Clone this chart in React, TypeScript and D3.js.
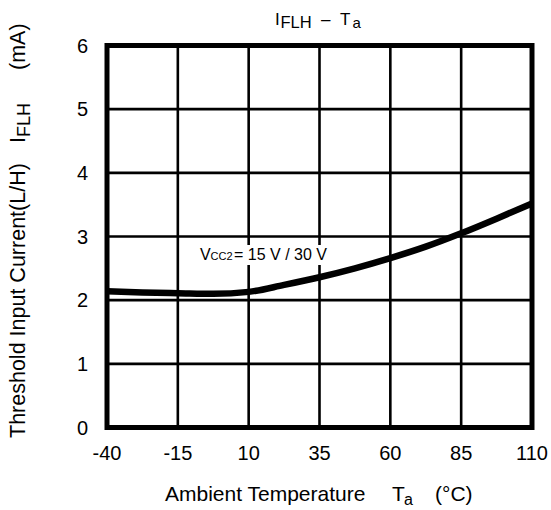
import React from "react";
import * as d3 from "d3";

const temps = [-40, -27.5, -15, -2.5, 10, 22.5, 35, 47.5, 60, 72.5, 85, 97.5, 110];
const currents = [2.14, 2.12, 2.11, 2.1, 2.13, 2.24, 2.36, 2.5, 2.66, 2.84, 3.05, 3.28, 3.52];
const xTicks = [-40, -15, 10, 35, 60, 85, 110];
const yTicks = [0, 1, 2, 3, 4, 5, 6];

const W = 551;
const H = 510;
const FONT = "'Liberation Sans', Arial, Helvetica, sans-serif";

export default function App() {
  const x = d3.scaleLinear().domain([-40, 110]).range([107, 532]);
  const y = d3.scaleLinear().domain([0, 6]).range([427.5, 45.5]);
  const pts: [number, number][] = temps.map((t, i) => [t, currents[i]]);
  const line = d3
    .line<[number, number]>()
    .x((d) => x(d[0]))
    .y((d) => y(d[1]))
    .curve(d3.curveMonotoneX);

  return (
    <svg
      width={W}
      height={H}
      viewBox={`0 0 ${W} ${H}`}
      style={{ position: "absolute", left: 0, top: 0, display: "block", background: "#fff" }}
      fontFamily={FONT}
    >
      <rect x={0} y={0} width={W} height={H} fill="#fff" />
      {/* grid */}
      {xTicks.slice(1, -1).map((t) => (
        <line key={"gx" + t} x1={x(t)} x2={x(t)} y1={y(6)} y2={y(0)} stroke="#000" strokeWidth={2.6} />
      ))}
      {yTicks.slice(1, -1).map((t) => (
        <line key={"gy" + t} x1={x(-40)} x2={x(110)} y1={y(t)} y2={y(t)} stroke="#000" strokeWidth={2.6} />
      ))}
      {/* annotation background */}
      <rect x={198} y={245} width={131} height={20} fill="#fff" />
      <text y={260} fontSize={16} fill="#000">
        <tspan x={200}>V</tspan>
        <tspan x={210.5} fontSize={11}>CC2</tspan>
        <tspan x={234}>= 15 V / 30 V</tspan>
      </text>
      {/* curve */}
      <path d={line(pts) || ""} fill="none" stroke="#000" strokeWidth={6.5} strokeLinejoin="round" />
      {/* frame */}
      <rect
        x={x(-40)}
        y={y(6)}
        width={x(110) - x(-40)}
        height={y(0) - y(6)}
        fill="none"
        stroke="#000"
        strokeWidth={5}
      />
      {/* y tick labels */}
      {yTicks.map((t) => (
        <text key={"yl" + t} x={88} y={y(t)} dy="0.36em" textAnchor="end" fontSize={20} fill="#000">
          {t}
        </text>
      ))}
      {/* x tick labels */}
      {xTicks.map((t) => (
        <text key={"xl" + t} x={x(t)} y={460} textAnchor="middle" fontSize={20} fill="#000">
          {t}
        </text>
      ))}
      {/* title */}
      <text y={25} fontSize={17} fill="#000">
        <tspan x={275}>I</tspan>
        <tspan x={280.5} dy={3} fontSize={16.5}>FLH</tspan>
        <tspan x={321} dy={-3}>–</tspan>
        <tspan x={340}>T</tspan>
        <tspan x={352.5} dy={3} fontSize={15}>a</tspan>
      </text>
      {/* x axis title */}
      <text y={501} fontSize={21} fill="#000">
        <tspan x={165}>Ambient Temperature</tspan>
        <tspan x={392}>T</tspan>
        <tspan x={404} dy={4} fontSize={16}>a</tspan>
        <tspan x={435} dy={-4}>(°C)</tspan>
      </text>
      {/* y axis title */}
      <text transform="translate(25,0) rotate(-90)" fontSize={21.5} fill="#000">
        <tspan x={-438}>Threshold Input Current(L/H)</tspan>
        <tspan x={-143}>I</tspan>
        <tspan x={-137} dy={5} fontSize={18}>FLH</tspan>
        <tspan x={-70} dy={-5}>(mA)</tspan>
      </text>
    </svg>
  );
}
